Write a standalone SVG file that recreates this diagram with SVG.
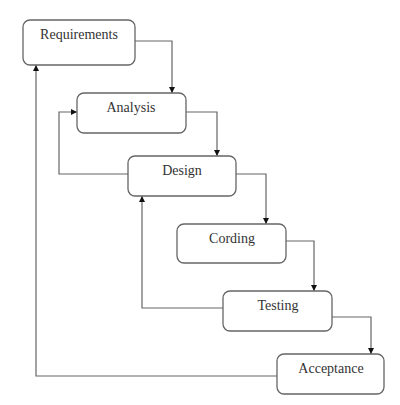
<svg xmlns="http://www.w3.org/2000/svg" width="400" height="405" viewBox="0 0 400 405">
<style>
.box{fill:#fff;stroke:#666;stroke-width:1.3}
.lbl{font-family:"Liberation Serif","Times New Roman",serif;font-size:14px;fill:#333;text-anchor:middle}
.ln{fill:none;stroke:#666;stroke-width:1.2}
</style>
<defs>
<marker id="ah" viewBox="0 0 10 10" refX="10" refY="5" markerWidth="6" markerHeight="6" markerUnits="userSpaceOnUse" orient="auto">
<path d="M0,0 L10,5 L0,10 Z" fill="#111"/>
</marker>
</defs>
<rect width="400" height="405" fill="#fff"/>
<g id="connectors">
<path class="ln" d="M135,41 H172 V93" marker-end="url(#ah)"/>
<path class="ln" d="M186,112 H217 V156" marker-end="url(#ah)"/>
<path class="ln" d="M236,174 H266 V224" marker-end="url(#ah)"/>
<path class="ln" d="M286,241 H314 V291" marker-end="url(#ah)"/>
<path class="ln" d="M332,317 H371 V354" marker-end="url(#ah)"/>
<path class="ln" d="M128,174 H59 V112 H77" marker-end="url(#ah)"/>
<path class="ln" d="M223,308 H142 V196" marker-end="url(#ah)"/>
<path class="ln" d="M277,376 H36 V65" marker-end="url(#ah)"/>
</g>
<g id="requirements">
<rect class="box" x="23" y="20" width="112" height="45" rx="7"/>
<text class="lbl" x="79" y="39">Requirements</text>
</g>
<g id="analysis">
<rect class="box" x="77" y="93" width="109" height="40" rx="7"/>
<text class="lbl" x="131" y="112">Analysis</text>
</g>
<g id="design">
<rect class="box" x="128" y="156" width="108" height="40" rx="7"/>
<text class="lbl" x="182" y="175">Design</text>
</g>
<g id="cording">
<rect class="box" x="177" y="224" width="109" height="39" rx="7"/>
<text class="lbl" x="232" y="243">Cording</text>
</g>
<g id="testing">
<rect class="box" x="223" y="291" width="109" height="40" rx="7"/>
<text class="lbl" x="278" y="310">Testing</text>
</g>
<g id="acceptance">
<rect class="box" x="277" y="354" width="107" height="40" rx="7"/>
<text class="lbl" x="331" y="373">Acceptance</text>
</g>
</svg>
